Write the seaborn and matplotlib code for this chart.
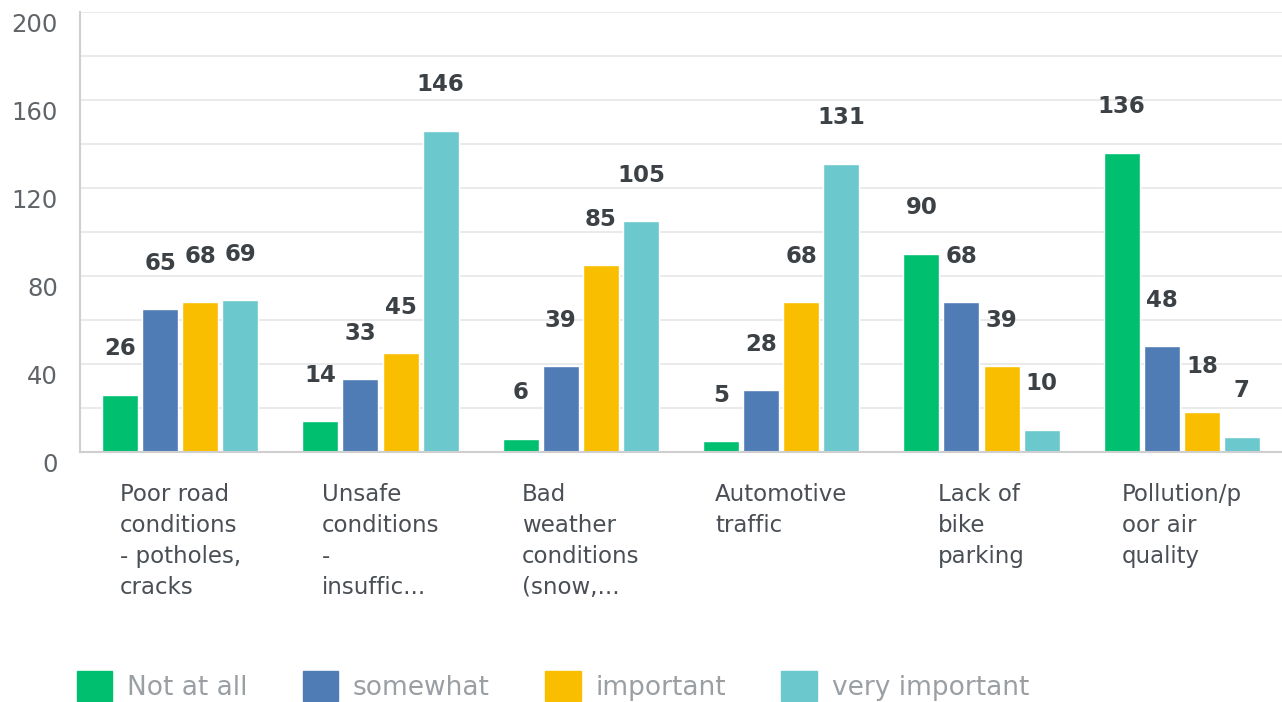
import numpy as np
import pandas as pd
import matplotlib.pyplot as plt
import matplotlib.transforms as mtransforms
from matplotlib.patches import Patch
import seaborn as sns

# chart values
categories = ["Poor road\nconditions\n- potholes,\ncracks",
              "Unsafe\nconditions\n-\ninsuffic...",
              "Bad\nweather\nconditions\n(snow,...",
              "Automotive\ntraffic",
              "Lack of\nbike\nparking",
              "Pollution/p\noor air\nquality"]
series = ["Not at all", "somewhat", "important", "very important"]
not_at_all = [26, 14, 6, 5, 90, 136]
somewhat = [65, 33, 39, 28, 68, 48]
important = [68, 45, 85, 68, 39, 18]
very_important = [69, 146, 105, 131, 10, 7]
colors = ["#00BF6F", "#507CB6", "#F9BE00", "#6BC8CD"]

rows = []
for s, vals in zip(series, [not_at_all, somewhat, important, very_important]):
    for c, v in zip(categories, vals):
        rows.append({"category": c, "level": s, "count": v})
df = pd.DataFrame(rows)

sns.set_style("white")
plt.rcParams['font.family'] = ['DejaVu Sans']

fig = plt.figure(figsize=(12.82, 7.02), dpi=100)
ax = fig.add_axes([80 / 1282, 1 - 452 / 702, 1 - 80 / 1282, 440 / 702])

sns.barplot(data=df, x="category", y="count", hue="level", palette=colors,
            order=categories, hue_order=series, width=0.8, gap=0.1,
            saturation=1, legend=False, ax=ax)

ax.set_ylim(0, 200)
ax.set_xlim(-0.5, 5.5)
ax.set_yticks(np.arange(0, 201, 40))
ax.set_yticks(np.arange(0, 201, 20), minor=True)
ax.grid(axis="y", which="both", color="#e6e6e6", linewidth=1.2)
ax.set_axisbelow(True)
ax.set_xlabel("")
ax.set_ylabel("")
for side in ["top", "right"]:
    ax.spines[side].set_visible(False)
ax.spines["left"].set_color("#cfcfcf")
ax.spines["bottom"].set_color("#cfcfcf")
ax.spines["left"].set_linewidth(1.5)
ax.spines["bottom"].set_linewidth(1.5)

ax.tick_params(axis="y", which="both", length=0, pad=16, labelsize=17.5, labelcolor="#5f6469")
ax.tick_params(axis="x", length=0, pad=22, labelsize=16.5, labelcolor="#4a4f55")
for lab in ax.get_xticklabels():
    lab.set_multialignment("left")
    lab.set_linespacing(1.45)
    lab.set_verticalalignment("top")
shift = mtransforms.ScaledTranslation(0, -10 / 100, fig.dpi_scale_trans)
for lab in ax.get_yticklabels():
    lab.set_transform(lab.get_transform() + shift)

# value labels
for cont in ax.containers:
    for bar in cont:
        h = bar.get_height()
        ax.annotate(f"{int(round(h))}", (bar.get_x() + bar.get_width() / 2, h),
                    xytext=(0, 46), textcoords="offset pixels", ha="center", va="center",
                    fontsize=16.5, fontweight="bold", color="#3c4146")

handles = [Patch(facecolor=c, edgecolor=c) for c in colors]
fig.legend(handles, series, loc="center left", bbox_to_anchor=(53 / 1282, 1 - 686 / 702),
           ncol=4, frameon=False, fontsize=19, handlelength=1.35, handleheight=1.35,
           handletextpad=0.55, columnspacing=2.1, labelcolor="#9a9fa4")

fig.savefig("out.png", dpi=100)
